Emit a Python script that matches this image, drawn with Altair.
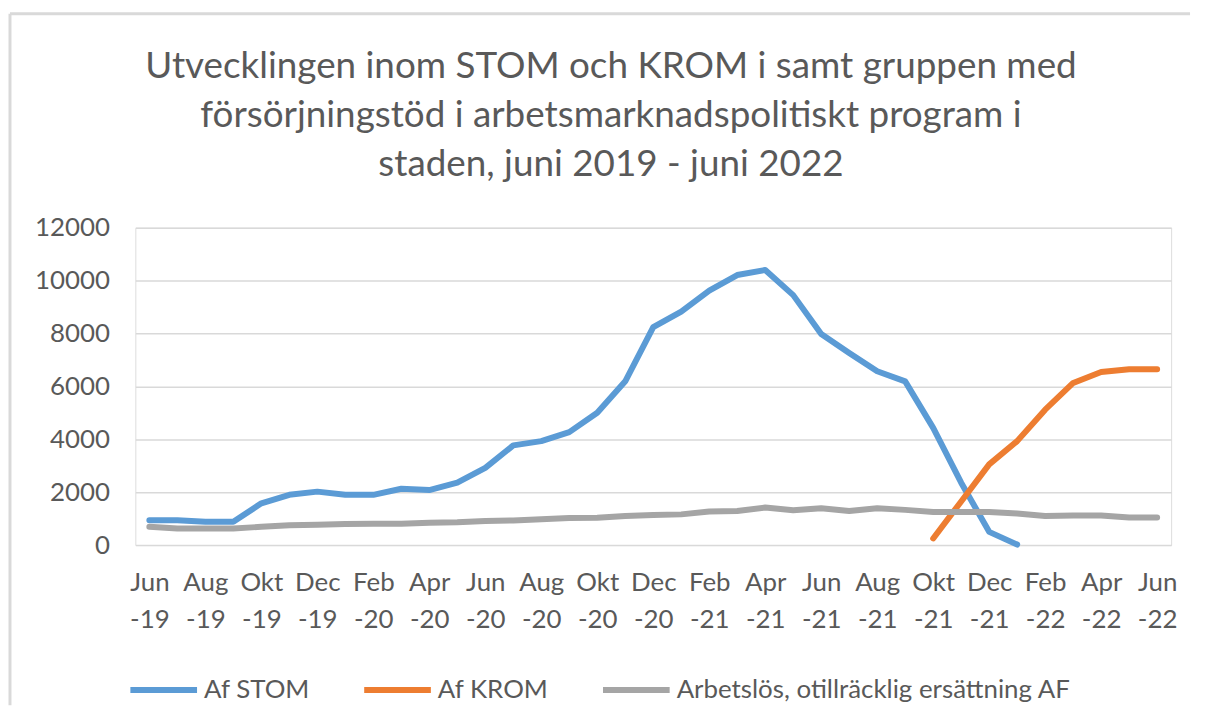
import altair as alt
import pandas as pd

months = ["Jun -19", "Jul -19", "Aug -19", "Sep -19", "Okt -19", "Nov -19", "Dec -19",
          "Jan -20", "Feb -20", "Mar -20", "Apr -20", "Maj -20", "Jun -20", "Jul -20",
          "Aug -20", "Sep -20", "Okt -20", "Nov -20", "Dec -20", "Jan -21", "Feb -21",
          "Mar -21", "Apr -21", "Maj -21", "Jun -21", "Jul -21", "Aug -21", "Sep -21",
          "Okt -21", "Nov -21", "Dec -21", "Jan -22", "Feb -22", "Mar -22", "Apr -22",
          "Maj -22", "Jun -22"]

stom = [940, 940, 880, 880, 1580, 1900, 2020, 1900, 1900, 2130, 2080, 2360, 2920, 3770,
        3930, 4270, 5000, 6190, 8240, 8830, 9620, 10210, 10400, 9450, 7980, 7260, 6570,
        6190, 4430, 2360, 500, 20]

krom = [250, 1650, 3050, 3930, 5120, 6130, 6540, 6650, 6650]
krom_start = 28

arbetslos = [690, 630, 630, 630, 690, 750, 770, 800, 810, 810, 840, 860, 910, 930, 980,
             1020, 1030, 1100, 1140, 1160, 1270, 1290, 1420, 1320, 1390, 1290, 1390, 1330,
             1250, 1250, 1250, 1190, 1100, 1120, 1120, 1040, 1040]

series = ["Af STOM", "Af KROM", "Arbetslös, otillräcklig ersättning AF"]
colors = ["#5B9BD5", "#ED7D31", "#A5A5A5"]
y_ticks = [0, 2000, 4000, 6000, 8000, 10000, 12000]
title_lines = ["Utvecklingen inom STOM och KROM i samt gruppen med",
               "försörjningstöd i arbetsmarknadspolitiskt program i",
               "staden, juni 2019 - juni 2022"]

rows = []
for i, v in enumerate(stom):
    rows.append({"month": months[i], "serie": series[0], "value": v})
for j, v in enumerate(krom):
    rows.append({"month": months[krom_start + j], "serie": series[1], "value": v})
for i, v in enumerate(arbetslos):
    rows.append({"month": months[i], "serie": series[2], "value": v})
df = pd.DataFrame(rows)

FONT = "Lato"
TXT = "#595959"

lines = alt.Chart(df).mark_line(strokeWidth=6, strokeCap="round", strokeJoin="round").encode(
    x=alt.X("month:N", sort=months,
            scale=alt.Scale(type="point", padding=0.5),
            axis=alt.Axis(title=None, values=months[::2], labelExpr="split(datum.label, ' ')",
                          labelAngle=0, labelFont=FONT, labelFontSize=26, labelColor=TXT,
                          labelLineHeight=37, labelPadding=25, ticks=False, domain=False,
                          grid=False, labelOverlap=False)),
    y=alt.Y("value:Q", scale=alt.Scale(domain=[0, 12000], nice=False),
            axis=alt.Axis(title=None, values=y_ticks, format="d", labelFont=FONT, labelFontSize=26,
                          labelColor=TXT, labelPadding=26, ticks=False, domain=False,
                          grid=True, gridColor="#D9D9D9", gridWidth=1.5,
                          minExtent=126, maxExtent=126)),
    color=alt.Color("serie:N", scale=alt.Scale(domain=series, range=colors),
                    legend=alt.Legend(title=None, orient="none", legendX=-8, legendY=428,
                                      direction="horizontal", symbolType="stroke",
                                      symbolSize=4489, symbolStrokeWidth=6,
                                      labelFont=FONT, labelFontSize=26, labelColor=TXT,
                                      labelOffset=4, columnPadding=42, labelLimit=600)),
    detail="serie:N",
)

one = pd.DataFrame({"k": [0]})
vborder = alt.Chart(one).mark_rule(color="#D9D9D9", strokeWidth=3).encode(
    x=alt.value(-126), y=alt.value(-215), y2=alt.value(480))
hborder = alt.Chart(one).mark_rule(color="#D9D9D9", strokeWidth=3).encode(
    x=alt.value(-126), x2=alt.value(1060), y=alt.value(-215))

title_df = pd.DataFrame({"t": ["\n".join(title_lines)]})
title = alt.Chart(title_df).mark_text(
    font=FONT, fontSize=37, color=TXT, align="center", baseline="alphabetic",
    lineBreak="\n", lineHeight=49,
).encode(text="t:N", x=alt.value(478), y=alt.value(-150))

chart = alt.layer(vborder, hborder, title, lines).properties(
    width=1041, height=319,
    padding={"left": 0, "top": 2, "right": 5, "bottom": 5},
).configure_view(stroke=None).configure(background="white")

chart.save("out.html", embed_options={"renderer": "svg", "actions": False})
